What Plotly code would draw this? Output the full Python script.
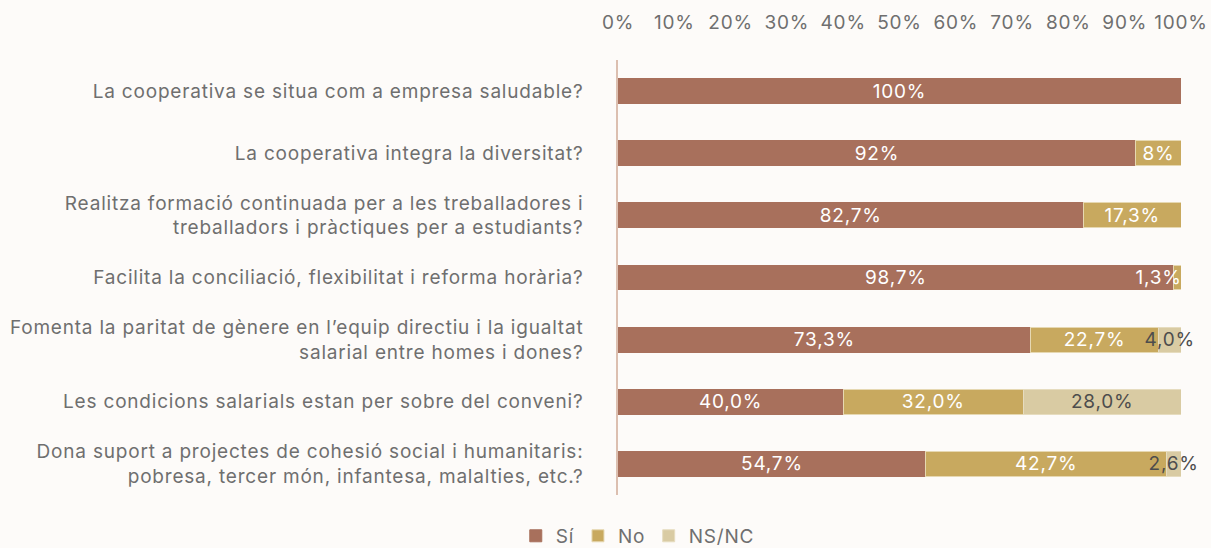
import plotly.graph_objects as go

categories = [
    "La cooperativa se situa com a empresa saludable?",
    "La cooperativa integra la diversitat?",
    "Realitza formació continuada per a les treballadores i<br>treballadors i pràctiques per a estudiants?",
    "Facilita la conciliació, flexibilitat i reforma horària?",
    "Fomenta la paritat de gènere en l’equip directiu i la igualtat<br>salarial entre homes i dones?",
    "Les condicions salarials estan per sobre del conveni?",
    "Dona suport a projectes de cohesió social i humanitaris:<br>pobresa, tercer món, infantesa, malalties, etc.?",
]
si_values = [100, 92, 82.7, 98.7, 73.3, 40.0, 54.7]
no_values = [0, 8, 17.3, 1.3, 22.7, 32.0, 42.7]
nsnc_values = [0, 0, 0, 0, 4.0, 28.0, 2.6]
si_labels = ["100%", "92%", "82,7%", "98,7%", "73,3%", "40,0%", "54,7%"]
no_labels = ["", "8%", "17,3%", "1,3%", "22,7%", "32,0%", "42,7%"]
nsnc_labels = ["", "", "", "", "4,0%", "28,0%", "2,6%"]
tick_vals = [0, 10, 20, 30, 40, 50, 60, 70, 80, 90, 100]
tick_text = [f"{v}%" for v in tick_vals]

FONT = "Inter"
FS = 19
GRAY = "#6f6f6f"

# very thin "No" segments get their label right-aligned at the segment end
no_bar_text = [t if v >= 2 else "" for t, v in zip(no_labels, no_values)]

series = [
    ("Sí", si_values, si_labels, "#a8705c", "#ffffff", "#a8705c"),
    ("No", no_values, no_bar_text, "#c8a95f", "#ffffff", "#e6d8b2"),
    ("NS/NC", nsnc_values, nsnc_labels, "#d9cba3", "#4d4d4d", "#e6dcbf"),
]

fig = go.Figure()
for name, vals, labels, color, tcolor, lcolor in series:
    fig.add_trace(go.Bar(
        name=name, y=categories, x=vals, orientation="h",
        text=labels, textposition="inside", insidetextanchor="middle",
        constraintext="none", textangle=0, cliponaxis=False,
        textfont=dict(family=FONT, size=FS, color=tcolor),
        marker=dict(color=color, line=dict(color=lcolor, width=1)),
        width=0.4,
        hoverinfo="skip",
    ))

for cat, s, v, t in zip(categories, si_values, no_values, no_labels):
    if t and v < 2:
        fig.add_annotation(x=s + v, y=cat, text=t, xanchor="right", yanchor="middle",
                           showarrow=False, xshift=1,
                           font=dict(family=FONT, size=FS, color="#ffffff"))

fig.update_layout(
    barmode="stack",
    width=1211, height=548,
    paper_bgcolor="#fdfbf9", plot_bgcolor="#fdfbf9",
    margin=dict(l=618, r=30, t=60, b=53),
    font=dict(family=FONT, size=FS, color=GRAY),
    showlegend=True,
    legend=dict(orientation="h", x=0.525, xanchor="center", xref="container",
                y=0.022, yanchor="middle", yref="container",
                font=dict(family=FONT, size=FS, color=GRAY),
                traceorder="normal"),
)
fig.update_xaxes(
    side="top", range=[0, 100], tickvals=tick_vals, ticktext=tick_text,
    showgrid=False, zeroline=False, showline=False, ticks="",
    ticklabelstandoff=26,
    tickfont=dict(family=FONT, size=FS, color=GRAY),
    fixedrange=True, automargin=False,
)
fig.update_yaxes(
    autorange="reversed", showgrid=False, zeroline=False,
    showline=True, linecolor="#dcbfb0", linewidth=1.5, ticks="",
    ticklabelstandoff=29,
    tickfont=dict(family=FONT, size=FS, color=GRAY),
    fixedrange=True, automargin=False,
)

css = "body{margin:0;background:#fdfbf9} .main-svg text{letter-spacing:0.8px}"
fig.write_html(
    "out.html",
    config={"displayModeBar": False},
    post_script=(
        "var s=document.createElement('style');"
        f"s.innerHTML='{css}';"
        "document.head.appendChild(s);"
    ),
)
